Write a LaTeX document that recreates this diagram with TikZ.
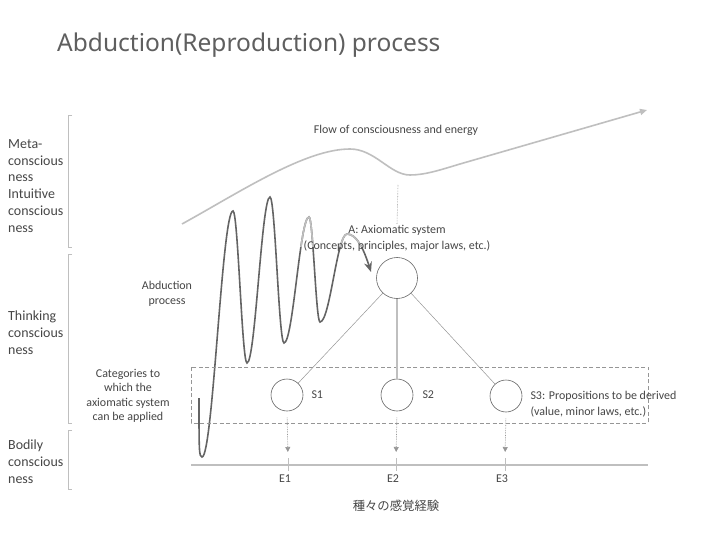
\documentclass[tikz,border=0pt]{standalone}
\usepackage{fontspec}
\setmainfont{Carlito}
\newfontfamily\titlefont{Noto Sans}
\newfontfamily\jpfont{Noto Sans CJK JP}
\usetikzlibrary{arrows.meta, positioning}
\definecolor{titlegray}{RGB}{95,95,95}
\definecolor{textgray}{RGB}{70,70,70}
\definecolor{wavegray}{RGB}{100,100,100}
\definecolor{linegray}{RGB}{191,191,191}
\definecolor{thingray}{RGB}{150,150,150}
\newcommand{\wavepath}{(199,398) .. controls (199,450) and (199,457) .. (202,457)
    .. controls (213,457) and (222,211) .. (233,211)
    .. controls (238,211) and (242,363) .. (247,363)
    .. controls (255.4,363) and (261.6,197) .. (270,197)
    .. controls (275.1,197) and (278.9,343) .. (284,343)
    .. controls (293.1,343) and (299.9,217) .. (309,217)
    .. controls (313,217) and (316,322) .. (320,322)
    .. controls (330,322) and (337,234) .. (347,234)
    .. controls (357,234) and (364,250) .. (371,272)}

\tikzset{
  lbl/.style={text=textgray, font=\fontsize{14}{17}\selectfont, align=left, inner sep=0pt},
  small/.style={text=textgray, font=\fontsize{12}{15.5}\selectfont, inner sep=0pt},
  prop/.style={circle, draw=wavegray, line width=0.6pt, minimum size=32bp, inner sep=0pt},
  bracketline/.style={draw=linegray, line width=0.8pt},
  drop/.style={densely dotted, thingray, line width=0.7pt,
    -{Triangle[length=5bp,width=5bp]}},
}

\begin{document}
\begin{tikzpicture}[x=1bp, y=-1bp]
  \useasboundingbox[fill=white] (0,0) rectangle (720,540);

  % Title
  \node[anchor=west, text=titlegray, font=\titlefont\fontsize{24.6}{28}\selectfont,
    inner sep=0pt] (title) at (57,45) {Abduction(Reproduction) process};

  % Levels of consciousness
  \node[lbl, anchor=west] (meta) at (8,186)
    {Meta-\\conscious\\ness\\Intuitive\\conscious\\ness};
  \node[lbl, anchor=west] (thinking) at (8,333) {Thinking\\conscious\\ness};
  \node[lbl, anchor=west] (bodily) at (8,462) {Bodily\\conscious\\ness};
  \draw[bracketline] (72,115) -- (68,115) -- (68,247) -- (72,247);
  \draw[bracketline] (72,254) -- (68,254) -- (68,423) -- (72,423);
  \draw[bracketline] (72,430) -- (68,430) -- (68,489) -- (72,489);

  % Flow of consciousness
  \draw[linegray, line width=1.6pt, -{Triangle[length=7bp,width=6bp]}]
    (182,224) .. controls (240,192) and (305,149) .. (350,149)
    .. controls (375,149) and (390,175) .. (410,175)
    .. controls (425,175) and (440,170) .. (460,164) -- (647,110);
  \node[small] (flow) at (396,130) {Flow of consciousness and energy};
  \coordinate (dip) at (398,185);

  % Abduction wave
  \draw[wavegray, line width=1.6pt, -{Stealth[length=10bp,width=8bp]}] \wavepath;
  \begin{scope}
    \clip (293,190) rectangle (366,247);
    \draw[linegray, line width=1.6pt] \wavepath;
  \end{scope}
  \node[small, align=center] (abd) at (167,294) {Abduction\\process};

  % Axiomatic system
  \node[small, align=center, font=\fontsize{12}{16}\selectfont] (alabel) at (397,238)
    {A: Axiomatic system\\(Concepts, principles, major laws, etc.)};
  \draw[densely dotted, thingray, line width=0.6pt] (dip) -- (alabel.north);
  \node[prop, minimum size=41bp] (A) at (397,278) {};

  % Propositions
  \draw[thingray, dash pattern=on 4bp off 2.5bp, line width=0.8pt]
    (191,367) rectangle (648,423);
  \node[small, align=center, font=\fontsize{12}{14.4}\selectfont] (cat) at (128,396)
    {Categories to\\which the\\axiomatic system\\can be applied};
  \node[prop] (S1) at (287,395) {};
  \node[prop] (S2) at (397,395) {};
  \node[prop] (S3) at (506,396) {};
  \node[small, right=8bp of S1] (s1label) {S1};
  \node[small, right=9bp of S2] (s2label) {S2};
  \node[small, align=left, right=8bp of S3, yshift=-8bp] (s3label)
    {S3: Propositions to be derived\\(value, minor laws, etc.)};
  \draw[thingray, line width=0.5pt] (A) -- (S1);
  \draw[linegray, line width=1.3pt] (A) -- (S2);
  \draw[thingray, line width=0.5pt] (A) -- (S3);

  % Sensory experiences
  \draw[linegray, line width=1.2pt] (191,465) -- (648,465);
  \foreach \i/\x in {1/288, 2/396, 3/505} {
    \coordinate (tick\i) at (\x,458);
    \draw[linegray, line width=0.8pt] (tick\i) -- (\x,471);
    \draw[drop, shorten <=6bp, shorten >=6bp] (S\i.south) -- (tick\i);
    \node[small] (E\i) at (\x-3,479) {E\i};
  }
  \node[text=textgray, font=\jpfont\fontsize{12.4}{14}\selectfont] (senses)
    at (396,506) {種々の感覚経験};
\end{tikzpicture}
\end{document}
